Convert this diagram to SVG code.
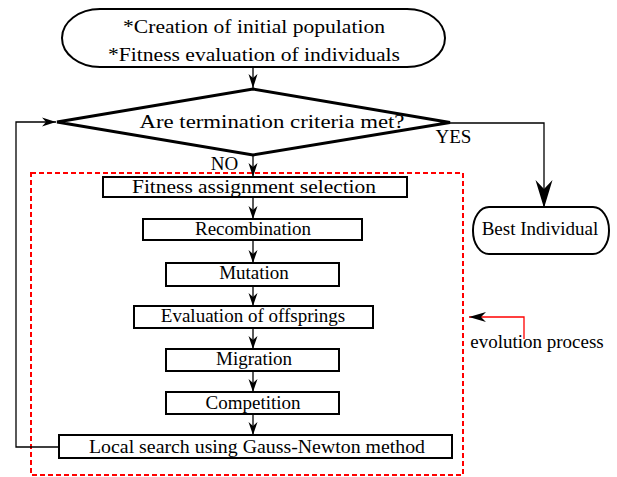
<svg xmlns="http://www.w3.org/2000/svg" width="617" height="477" viewBox="0 0 617 477">
<style>
text{font-family:'Liberation Serif','Times New Roman','DejaVu Serif',serif;font-size:19px;fill:#000;text-anchor:middle}
.box{fill:#fff;stroke:#000;stroke-width:2}
.dia{fill:#fff;stroke:#000;stroke-width:3;stroke-linejoin:miter}
.ln{fill:none;stroke:#000;stroke-width:1.3}
.red{fill:none;stroke:#ff0000;stroke-width:1.3}
.dash{fill:none;stroke:#ff0000;stroke-width:2;stroke-dasharray:5 3}
</style>
<defs>
<marker id="ah" markerUnits="userSpaceOnUse" viewBox="-14 -5 15 10" refX="0" refY="0" markerWidth="15" markerHeight="10" orient="auto">
<path d="M0,0 L-13,-4.5 L-9,0 L-13,4.5 Z" fill="#000"/>
</marker>
</defs>
<rect class="dash" x="31" y="173" width="432" height="302"/>
<g id="connectors">
<line class="ln" x1="253" y1="67" x2="253" y2="88"/>
<line class="ln" x1="253" y1="155" x2="253" y2="177"/>
<line class="ln" x1="253" y1="197" x2="253" y2="219" marker-end="url(#ah)"/>
<line class="ln" x1="253" y1="240" x2="253" y2="263" marker-end="url(#ah)"/>
<line class="ln" x1="253" y1="286" x2="253" y2="306" marker-end="url(#ah)"/>
<line class="ln" x1="253" y1="328" x2="253" y2="349" marker-end="url(#ah)"/>
<line class="ln" x1="253" y1="371" x2="253" y2="392" marker-end="url(#ah)"/>
<line class="ln" x1="253" y1="414" x2="253" y2="435" marker-end="url(#ah)"/>
<polyline class="ln" points="59,447 16,447 16,122 56,122"/>
<polyline class="ln" points="450,123 544,123 544,208" stroke-width="1.6"/>
<polyline class="red" points="524,339 524,317 469,317"/>
<path d="M253,88 L248.5,74 L253,78 L257.5,74 Z"/>
<path d="M253,177 L248.5,163 L253,167 L257.5,163 Z"/>
<path d="M56,122 L42,117.5 L46,122 L42,126.5 Z"/>
<path d="M544,208 L535.5,180 L544,189 L552.5,180 Z"/>
<path d="M469,317 L486,312 L481,317 L486,322 Z"/>
</g>
<g id="start">
<rect class="box" x="62" y="9" width="383" height="58" rx="38" ry="29"/>
<text x="254" y="33" textLength="262" lengthAdjust="spacingAndGlyphs" font-size="20">*Creation of initial population</text>
<text x="254" y="61" textLength="292" lengthAdjust="spacingAndGlyphs" font-size="20">*Fitness evaluation of individuals</text>
</g>
<g id="decision">
<polygon class="dia" points="253,89 450,122.5 253,155 57,122"/>
<text x="272" y="128" textLength="265" lengthAdjust="spacingAndGlyphs" font-size="20">Are termination criteria met?</text>
</g>
<g id="yes-label"><text x="453.5" y="143" font-size="18">YES</text></g>
<g id="no-label"><text x="224.5" y="170" font-size="18">NO</text></g>
<g id="fitness">
<rect class="box" x="103" y="177" width="304" height="20"/>
<text x="254" y="193" textLength="244" lengthAdjust="spacingAndGlyphs">Fitness assignment selection</text>
</g>
<g id="recombination">
<rect class="box" x="143" y="219" width="219" height="21"/>
<text x="253" y="235">Recombination</text>
</g>
<g id="mutation">
<rect class="box" x="166" y="263" width="173" height="23"/>
<text x="254" y="279">Mutation</text>
</g>
<g id="evaluation">
<rect class="box" x="134" y="306" width="239" height="22"/>
<text x="253" y="322">Evaluation of offsprings</text>
</g>
<g id="migration">
<rect class="box" x="166" y="349" width="173" height="22"/>
<text x="254" y="365">Migration</text>
</g>
<g id="competition">
<rect class="box" x="166" y="392" width="173" height="22"/>
<text x="253" y="409">Competition</text>
</g>
<g id="localsearch">
<rect class="box" x="59" y="435" width="393" height="23"/>
<text x="257" y="453" textLength="336" lengthAdjust="spacingAndGlyphs">Local search using Gauss-Newton method</text>
</g>
<g id="best">
<rect class="box" x="473" y="207" width="136" height="47" rx="16" ry="23"/>
<text x="540" y="235">Best Individual</text>
</g>
<g id="evolution">
<text x="537" y="348">evolution process</text>
</g>
</svg>
